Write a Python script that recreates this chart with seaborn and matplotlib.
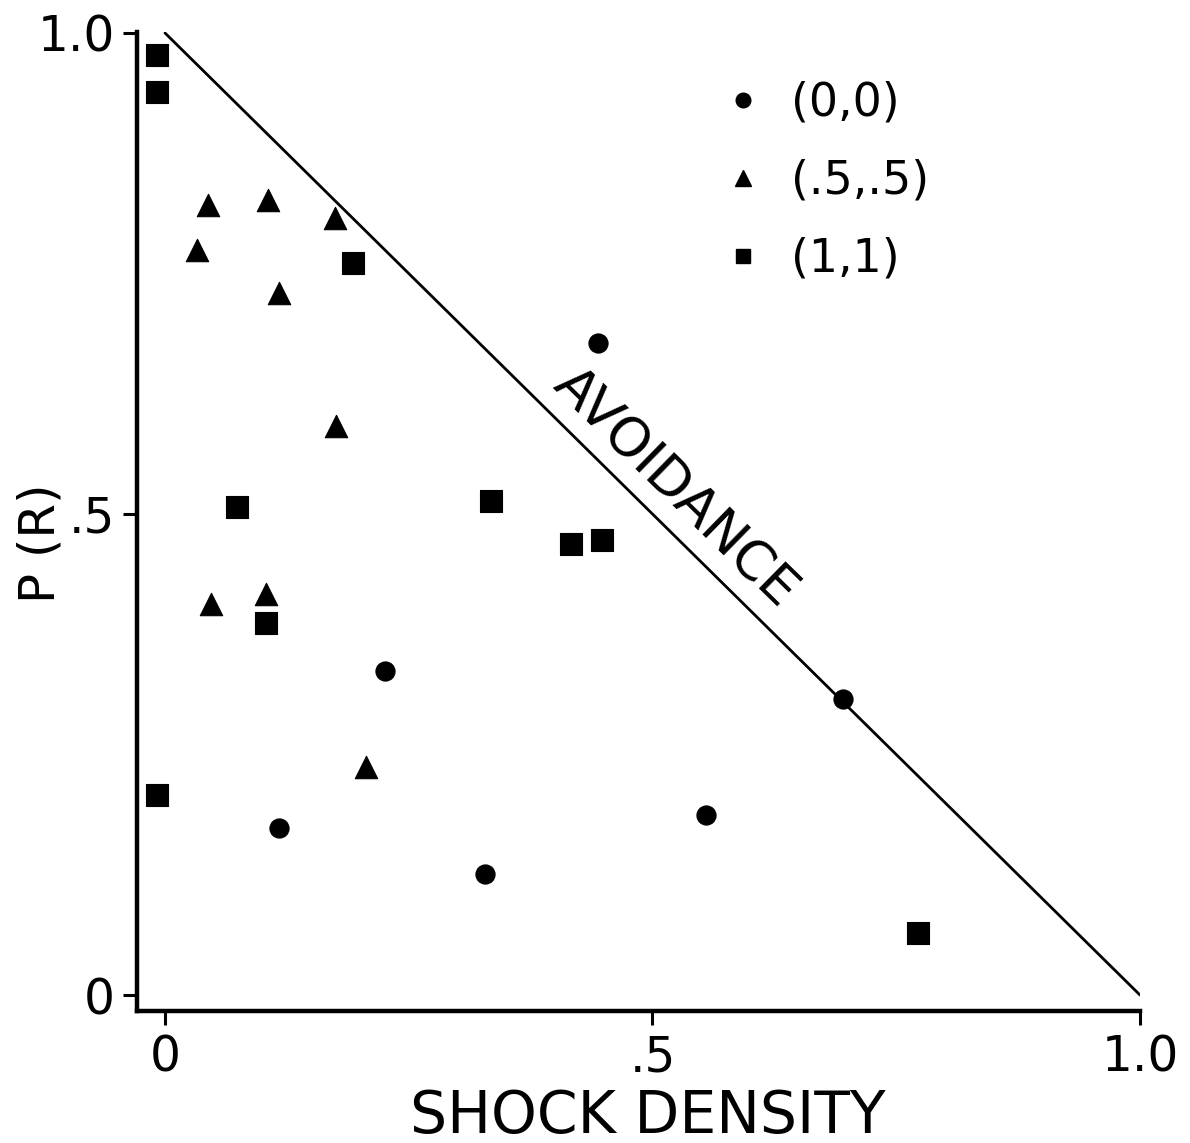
import numpy as np
import pandas as pd
import matplotlib
matplotlib.use("Agg")
import matplotlib.pyplot as plt
from matplotlib.lines import Line2D
import seaborn as sns

# Condition (0,0)
c00_x = [0.444, 0.226, 0.695, 0.117, 0.328, 0.555]
c00_y = [0.678, 0.337, 0.308, 0.174, 0.126, 0.187]

# Condition (.5,.5)
c55_x = [0.044, 0.106, 0.174, 0.033, 0.117, 0.175, 0.047, 0.104, 0.206]
c55_y = [0.821, 0.826, 0.808, 0.774, 0.730, 0.591, 0.406, 0.417, 0.237]

# Condition (1,1)
c11_x = [-0.008, -0.008, 0.193, 0.074, 0.334, 0.416, 0.448, 0.104, -0.008, 0.772]
c11_y = [0.977, 0.939, 0.761, 0.507, 0.514, 0.469, 0.473, 0.387, 0.208, 0.064]

group_labels = ["(0,0)", "(.5,.5)", "(1,1)"]

# Avoidance boundary: P(R) + shock density = 1
avoid_x = [0.0, 1.0]
avoid_y = [1.0, 0.0]

tick_values = [0.0, 0.5, 1.0]
tick_labels = ["0", ".5", "1.0"]

df = pd.concat([
    pd.DataFrame({"density": c00_x, "pr": c00_y, "group": group_labels[0]}),
    pd.DataFrame({"density": c55_x, "pr": c55_y, "group": group_labels[1]}),
    pd.DataFrame({"density": c11_x, "pr": c11_y, "group": group_labels[2]}),
], ignore_index=True)
line_df = pd.DataFrame({"density": avoid_x, "pr": avoid_y})

sns.set_style("ticks")
plt.rcParams["font.family"] = ["DejaVu Sans"]
plt.rcParams["text.color"] = "black"

fig = plt.figure(figsize=(11.9, 11.43), dpi=100)
ax = fig.add_axes([137 / 1190, 1 - 1011 / 1143, (1140 - 137) / 1190, (1011 - 32) / 1143])

sns.lineplot(data=line_df, x="density", y="pr", color="black", linewidth=2.0, ax=ax)

markers = {"(0,0)": "o", "(.5,.5)": "^", "(1,1)": "s"}
sizes = {"(0,0)": 190, "(.5,.5)": 260, "(1,1)": 240}
for g in group_labels:
    sns.scatterplot(data=df[df["group"] == g], x="density", y="pr",
                    marker=markers[g], s=sizes[g], color="black",
                    edgecolor="black", linewidth=0.8, ax=ax, legend=False)

ax.set_xlim(-0.0287, 1.0)
ax.set_ylim(-0.0166, 1.001)
ax.set_xticks(tick_values)
ax.set_xticklabels(tick_labels)
ax.set_yticks(tick_values)
ax.set_yticklabels(tick_labels)
ax.tick_params(axis="both", direction="out", length=10, width=2.2,
               color="black", labelsize=35, labelcolor="black", pad=6)

sns.despine(ax=ax)
for side in ("left", "bottom"):
    ax.spines[side].set_linewidth(3.2)
    ax.spines[side].set_color("black")

ax.set_xlabel("SHOCK DENSITY", fontsize=42, color="black")
ax.xaxis.set_label_coords(0.509, -0.079)
ax.set_ylabel("P (R)", fontsize=36, color="black")
ax.yaxis.set_label_coords(-0.072, 0.478)

ax.text(0.523, 0.527, "AVOIDANCE", rotation=-44.4, rotation_mode="anchor",
        ha="center", va="center", fontsize=39, color="black")

handles = [
    Line2D([], [], linestyle="none", marker="o", markersize=10.5, color="black"),
    Line2D([], [], linestyle="none", marker="^", markersize=12, color="black"),
    Line2D([], [], linestyle="none", marker="s", markersize=10.5, color="black"),
]
leg = ax.legend(handles, group_labels, loc="upper left",
                bbox_to_anchor=((697 - 137) / 1003, (1011 - 58) / 979),
                frameon=False, fontsize=33, handlelength=1.0, handletextpad=0.55,
                labelspacing=0.72, borderpad=0.0, labelcolor="black")

fig.savefig("out.png", dpi=100, facecolor="white")
